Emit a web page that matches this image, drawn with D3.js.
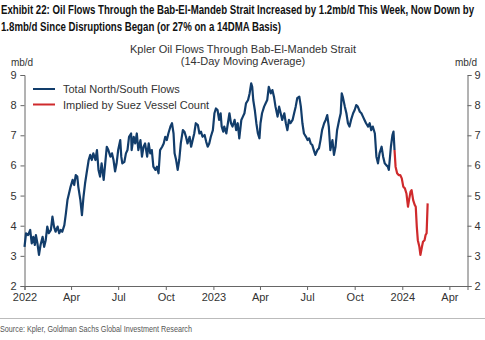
<!DOCTYPE html>
<html>
<head>
<meta charset="utf-8">
<script src="https://d3js.org/d3.v7.min.js"></script>
<style>
  body { margin: 0; background: #fff; }
  svg { display: block; }
</style>
</head>
<body>
<script>
// Kpler 14DMA oil flows through Bab-El-Mandeb, days counted from 1 Jan 2022
const startDate = new Date(2022, 0, 1);

const flowDays = [0, 3, 7, 11, 14, 17, 20, 22, 25, 28, 31, 35, 38, 41, 44, 47, 51, 54, 57, 60,
  64, 67, 70, 73, 77, 80, 83, 86, 89, 93, 96, 99, 102, 104, 108, 111, 114, 117, 120, 124,
  127, 130, 133, 137, 140, 143, 146, 149, 153, 156, 159, 162, 166, 169, 172, 175, 178, 181, 185, 187,
  189, 193, 196, 199, 202, 206, 207, 211, 214, 217, 220, 224, 227, 230, 233, 237, 240, 243, 246, 249,
  253, 256, 259, 262, 266, 269, 272, 275, 278, 282, 285, 288, 290, 293, 296, 299, 302, 306, 309, 312,
  315, 319, 322, 325, 328, 331, 335, 338, 341, 344, 348, 351, 354, 357, 360, 364, 367, 370, 373, 376,
  379, 381, 384, 386, 390, 393, 396, 399, 402, 406, 409, 412, 415, 419, 422, 425, 428, 432, 435, 438,
  440, 442, 445, 448, 451, 454, 456, 459, 463, 466, 469, 472, 476, 479, 482, 485, 489, 492, 495, 498,
  502, 505, 508, 511, 514, 518, 521, 524, 527, 531, 534, 537, 540, 544, 547, 550, 553, 556, 559, 562,
  566, 569, 572, 575, 579, 582, 585, 588, 591, 595, 598, 601, 604, 608, 611, 613, 615, 619, 622, 625,
  628, 631, 635, 638, 641, 644, 648, 651, 654, 657, 660, 664, 667, 670, 673, 677, 680, 683, 686, 690,
  693, 696, 699, 702, 704, 708, 711, 713, 715];

const flowValues = [3.30, 3.75, 3.69, 3.86, 3.41, 3.63, 3.36, 3.69, 3.41, 3.03, 3.36, 3.63, 3.30, 3.52, 3.97, 3.75, 3.86, 4.30, 3.97, 3.80,
  3.97, 3.75, 3.86, 3.80, 4.02, 4.41, 4.85, 5.07, 5.29, 5.52, 5.35, 5.68, 5.63, 5.29, 4.85, 4.35, 4.96, 5.40, 5.74, 6.18,
  6.35, 6.18, 6.40, 6.18, 6.51, 5.85, 5.63, 6.07, 5.52, 6.07, 6.62, 6.51, 6.29, 6.40, 6.18, 5.80, 6.07, 6.51, 6.84, 6.29,
  6.07, 6.12, 6.40, 6.51, 6.95, 7.06, 6.51, 6.95, 6.73, 7.06, 6.51, 6.84, 6.29, 6.62, 6.73, 6.29, 6.73, 6.40, 6.51, 5.96,
  5.85, 5.96, 5.74, 6.51, 6.62, 6.73, 6.95, 6.84, 7.06, 7.29, 7.40, 7.06, 6.40, 6.18, 5.85, 6.18, 6.73, 7.17, 7.12, 6.95,
  6.73, 6.95, 6.62, 6.84, 7.06, 7.40, 7.34, 7.06, 7.12, 6.95, 7.01, 6.79, 6.62, 6.73, 6.95, 7.17, 7.73, 7.89, 7.84, 7.51,
  7.73, 7.29, 7.12, 7.29, 7.06, 7.40, 7.73, 7.40, 7.29, 7.51, 7.17, 7.40, 6.90, 7.51, 7.62, 7.73, 8.06, 8.17, 8.39, 8.72,
  8.61, 8.17, 7.84, 7.40, 7.06, 6.90, 7.40, 7.73, 7.95, 8.06, 8.17, 8.61, 8.39, 8.50, 8.28, 7.95, 7.62, 7.95, 7.73, 7.51,
  7.73, 7.40, 7.17, 7.51, 7.40, 7.51, 7.73, 7.95, 8.23, 8.28, 7.95, 7.40, 7.06, 6.95, 6.84, 6.90, 6.73, 6.68, 6.51, 6.35,
  6.51, 6.57, 6.84, 7.17, 7.40, 7.51, 7.67, 7.29, 6.51, 6.84, 6.35, 6.62, 7.17, 7.51, 7.73, 8.39, 8.28, 7.95, 7.73, 7.40,
  7.29, 7.51, 7.73, 7.84, 8.00, 7.95, 7.78, 7.73, 7.62, 7.51, 7.40, 7.29, 7.40, 7.17, 7.29, 7.06, 6.29, 6.07, 6.40, 6.62,
  6.29, 6.07, 6.01, 5.96, 5.85, 6.62, 7.01, 7.12, 6.51];

// flows implied by the Suez vessel count, picking up where the Kpler series stops
const suezDays = [715, 717, 720, 723, 726, 729, 732, 735, 738, 741, 743, 746, 748, 751, 754, 756, 758, 760, 763, 765,
  768, 770, 773, 775, 777, 779];
const suezValues = [6.51, 5.96, 5.74, 5.68, 5.68, 5.57, 5.29, 5.24, 5.07, 4.63, 4.85, 5.13, 5.18, 4.85, 4.69, 4.63, 3.97, 3.52, 3.30, 3.03,
  3.30, 3.47, 3.52, 3.69, 3.75, 4.74];

const seriesNames = ['Total North/South Flows', 'Implied by Suez Vessel Count'];
const seriesColors = ['#123d6b', '#cf2a2c'];

const xTickDates = ['2022-01-01', '2022-04-01', '2022-07-01', '2022-10-01', '2023-01-01', '2023-04-01',
  '2023-07-01', '2023-10-01', '2024-01-01', '2024-04-01'];
const xTickLabels = ['2022', 'Apr', 'Jul', 'Oct', '2023', 'Apr', 'Jul', 'Oct', '2024', 'Apr'];
const yTicks = [2, 3, 4, 5, 6, 7, 8, 9];

const width = 485;
const height = 340;
const plot = { left: 24.5, right: 467.5, top: 75, bottom: 286 };

const sans = '"Liberation Sans", Arial, sans-serif';
const textColor = '#333';
const axisColor = '#666';

const parseDay = d3.timeParse('%Y-%m-%d');
const toDate = d => d3.timeDay.offset(startDate, d);

const x = d3.scaleTime()
  .domain([startDate, parseDay('2024-05-06')])
  .range([plot.left, plot.right]);

const y = d3.scaleLinear()
  .domain([2, 9])
  .range([plot.bottom, plot.top]);

const svg = d3.select('body').append('svg')
  .attr('width', width)
  .attr('height', height);

// headline, squeezed to a condensed look
const headline = [
  'Exhibit 22: Oil Flows Through the Bab-El-Mandeb Strait Increased by 1.2mb/d This Week, Now Down by',
  '1.8mb/d Since Disruptions Began (or 27% on a 14DMA Basis)'
];
const headTexts = svg.append('g')
  .selectAll('text')
  .data(headline)
  .join('text')
  .attr('x', 1)
  .attr('y', (d, i) => 14 + i * 17)
  .attr('font-family', sans)
  .attr('font-weight', 'bold')
  .attr('font-size', 12)
  .attr('fill', '#111')
  .text(d => d);

const natural = headTexts.nodes().map(n => n.getComputedTextLength());
const squeeze = 473 / natural[0];
headTexts
  .attr('textLength', (d, i) => natural[i] * squeeze)
  .attr('lengthAdjust', 'spacingAndGlyphs');

// chart title
svg.append('g')
  .selectAll('text')
  .data(['Kpler Oil Flows Through Bab-El-Mandeb Strait', '(14-Day Moving Average)'])
  .join('text')
  .attr('x', 243)
  .attr('y', (d, i) => 53 + i * 12)
  .attr('text-anchor', 'middle')
  .attr('font-family', sans)
  .attr('font-size', 11)
  .attr('fill', textColor)
  .text(d => d);

svg.append('text')
  .attr('x', 22)
  .attr('y', 66)
  .attr('text-anchor', 'middle')
  .attr('font-family', sans)
  .attr('font-size', 10)
  .attr('fill', textColor)
  .text('mb/d');

svg.append('text')
  .attr('x', 466)
  .attr('y', 66)
  .attr('text-anchor', 'middle')
  .attr('font-family', sans)
  .attr('font-size', 10)
  .attr('fill', textColor)
  .text('mb/d');

// axes
const styleAxis = g => {
  g.selectAll('path, line').attr('stroke', axisColor);
  g.selectAll('text')
    .attr('font-family', sans)
    .attr('font-size', 11)
    .attr('fill', textColor);
};

svg.append('g')
  .attr('transform', `translate(0,${plot.bottom})`)
  .call(d3.axisBottom(x)
    .tickValues(xTickDates.map(parseDay))
    .tickFormat((d, i) => xTickLabels[i])
    .tickSizeOuter(0)
    .tickSize(4)
    .tickPadding(3))
  .call(styleAxis);

svg.append('g')
  .attr('transform', `translate(${plot.left},0)`)
  .call(d3.axisLeft(y)
    .tickValues(yTicks)
    .tickFormat(d3.format('d'))
    .tickSizeOuter(0)
    .tickSize(4)
    .tickPadding(4))
  .call(styleAxis);

svg.append('g')
  .attr('transform', `translate(${plot.right},0)`)
  .call(d3.axisRight(y)
    .tickValues(yTicks)
    .tickFormat(d3.format('d'))
    .tickSizeOuter(0)
    .tickSize(4)
    .tickPadding(3))
  .call(styleAxis);

// series
const line = d3.line()
  .x(d => x(toDate(d[0])))
  .y(d => y(d[1]));

const series = [
  d3.zip(flowDays, flowValues),
  d3.zip(suezDays, suezValues)
];

svg.append('g')
  .selectAll('path')
  .data(series)
  .join('path')
  .attr('d', line)
  .attr('fill', 'none')
  .attr('stroke', (d, i) => seriesColors[i])
  .attr('stroke-width', 2.2)
  .attr('stroke-linejoin', 'round');

// legend
const legend = svg.append('g')
  .selectAll('g')
  .data(seriesNames)
  .join('g')
  .attr('transform', (d, i) => `translate(33,${89 + i * 15.5})`);

legend.append('line')
  .attr('x1', 0)
  .attr('x2', 22)
  .attr('stroke', (d, i) => seriesColors[i])
  .attr('stroke-width', 2);

legend.append('text')
  .attr('x', 30)
  .attr('y', 4)
  .attr('font-family', sans)
  .attr('font-size', 11)
  .attr('fill', textColor)
  .text(d => d);

// footer
svg.append('line')
  .attr('x1', 0)
  .attr('x2', width)
  .attr('y1', 318.5)
  .attr('y2', 318.5)
  .attr('stroke', '#bbb');

svg.append('text')
  .attr('x', 0)
  .attr('y', 332)
  .attr('font-family', sans)
  .attr('font-size', 9)
  .attr('fill', '#555')
  .attr('textLength', 192)
  .attr('lengthAdjust', 'spacingAndGlyphs')
  .text('Source: Kpler, Goldman Sachs Global Investment Research');
</script>
</body>
</html>
